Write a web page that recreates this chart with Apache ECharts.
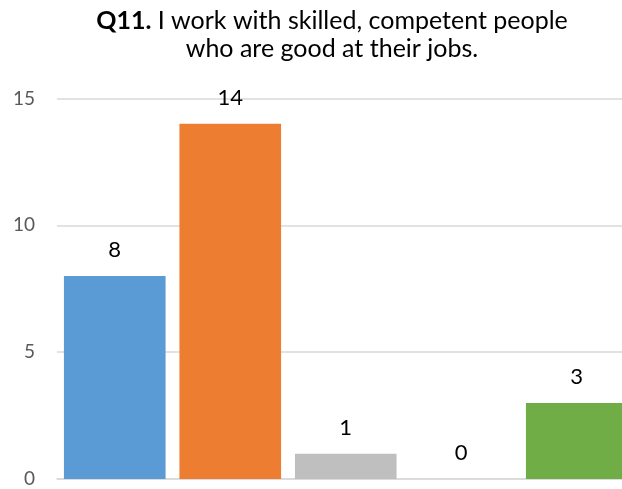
<!DOCTYPE html>
<html>
<head>
<meta charset="utf-8">
<script src="https://cdn.jsdelivr.net/npm/echarts@6/dist/echarts.min.js"></script>
<style>
  html, body { margin: 0; padding: 0; background: #fff; }
  #chart { width: 622px; height: 489px; }
</style>
</head>
<body>
<div id="chart"></div>
<script>
// Response counts per answer option
const categories = ['Strongly agree', 'Agree', 'Neutral', 'Disagree', 'Strongly disagree'];
const counts = [8, 14, 1, 0, 3];
const barColors = ['#5B9BD5', '#ED7D31', '#BFBFBF', '#FFC000', '#70AD47'];
const yTicks = { min: 0, max: 15, interval: 5 };

const chart = echarts.init(document.getElementById('chart'), null, { renderer: 'canvas' });

chart.setOption({
  animation: false,
  backgroundColor: '#ffffff',
  textStyle: { fontFamily: 'Lato' },
  title: {
    left: 327,
    top: 2,
    textAlign: 'center',
    text: '{b|Q11.} I work with skilled, competent people\nwho are good at their jobs.',
    textStyle: {
      fontFamily: 'Lato',
      fontSize: 25,
      fontWeight: 'normal',
      color: '#000',
      lineHeight: 28,
      rich: {
        b: { fontFamily: 'Lato', fontSize: 25, fontWeight: 'bold', color: '#000', lineHeight: 28 }
      }
    }
  },
  grid: {
    left: 57, top: 98.5, width: 577.5, height: 380.5,
    containLabel: false,
    outerBoundsMode: 'none'
  },
  xAxis: {
    type: 'category',
    data: categories,
    axisLine: { show: true, lineStyle: { color: '#D9D9D9', width: 1.5 } },
    axisTick: { show: false },
    axisLabel: { show: false },
    splitLine: { show: false }
  },
  yAxis: {
    type: 'value',
    min: yTicks.min,
    max: yTicks.max,
    interval: yTicks.interval,
    axisLine: { show: false },
    axisTick: { show: false },
    axisLabel: { color: '#595959', fontSize: 19, fontFamily: 'Lato', margin: 22 },
    splitLine: { show: true, lineStyle: { color: '#D9D9D9', width: 1.5 } }
  },
  series: [{
    type: 'bar',
    data: counts.map((v, i) => ({ value: v, itemStyle: { color: barColors[i] } })),
    barCategoryGap: '12%',
    label: {
      show: true,
      position: 'top',
      distance: 15,
      color: '#000',
      fontSize: 22,
      fontFamily: 'Lato'
    }
  }]
});
</script>
</body>
</html>
